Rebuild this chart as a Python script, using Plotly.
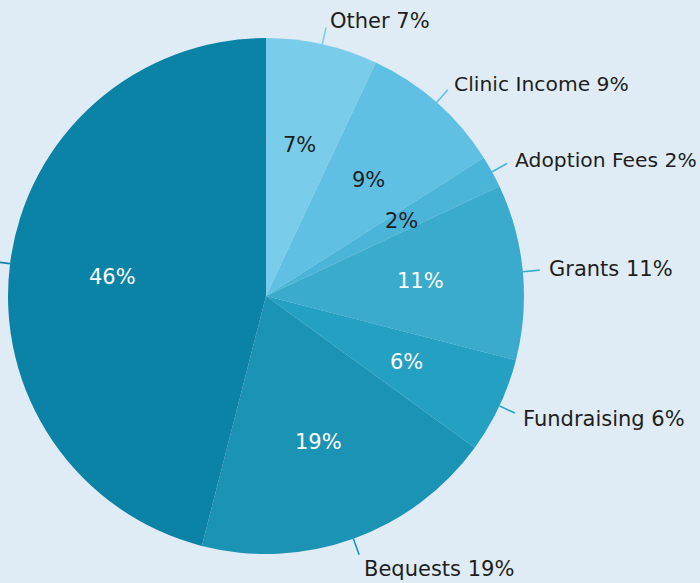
import math
import plotly.graph_objects as go

labels = ["Other", "Clinic Income", "Adoption Fees", "Grants", "Fundraising", "Bequests", "Donations"]
values = [7, 9, 2, 11, 6, 19, 46]
colors = ["#7acdea", "#5fc0e3", "#4ab5d9", "#3aaacd", "#23a0c2", "#1b93b5", "#0b83a6"]
inner_text_colors = ["#1e1e1e", "#1e1e1e", "#1e1e1e", "#ffffff", "#ffffff", "#ffffff", "#ffffff"]
# the outer label of the largest slice lies beyond the left edge of the view
show_outer_label = [True, True, True, True, True, True, False]

W, H = 700, 583
ML, MR, MT, MB = 8, 176, 38, 29
R_PX = 258.0

fig = go.Figure(go.Pie(
    labels=labels, values=values, sort=False, direction="clockwise", rotation=0,
    marker=dict(colors=colors, line=dict(width=0)),
    textinfo="none", hoverinfo="label+percent", showlegend=False,
))

total = sum(values)
annotations = []
shapes = []
cum = 0.0
FONT = "DejaVu Sans, Verdana, sans-serif"
for lab, v, col, tcol, show in zip(labels, values, colors, inner_text_colors, show_outer_label):
    mid = (cum + v / 2.0) / total * 2 * math.pi
    cum += v
    s, c = math.sin(mid), math.cos(mid)
    pct = round(v / total * 100)

    def pt(frac):
        return 0.5 + 0.5 * frac * s, 0.5 + 0.5 * frac * c

    # inside percentage
    x, y = pt(0.6)
    annotations.append(dict(x=x, y=y, xref="paper", yref="paper", text=f"{pct}%",
                            showarrow=False, font=dict(family=FONT, size=21, color=tcol),
                            xanchor="center", yanchor="middle"))
    # leader line
    x0, y0 = pt(1.0)
    x1, y1 = pt(1.0 + 17 / R_PX)
    shapes.append(dict(type="line", xref="paper", yref="paper", x0=x0, y0=y0, x1=x1, y1=y1,
                       line=dict(color=col, width=1.6)))
    # outside label
    if show:
        xt, yt = pt(1.0 + 24 / R_PX)
        size = 20.3 if len(lab) > 12 else 21
        annotations.append(dict(x=xt, y=yt, xref="paper", yref="paper", text=f"{lab} {pct}%",
                                showarrow=False, font=dict(family=FONT, size=size, color="#1e1e1e"),
                                yshift=8 * min(c, 0.0),
                                xanchor="left" if s >= 0 else "right", yanchor="middle"))

fig.update_layout(
    width=W, height=H,
    margin=dict(l=ML, r=MR, t=MT, b=MB, pad=0),
    paper_bgcolor="#e0ecf5", plot_bgcolor="#e0ecf5",
    annotations=annotations, shapes=shapes,
)

fig.write_html("out.html", config={"displayModeBar": False},
               post_script="document.body.style.margin='0';document.body.style.background='#e0ecf5';")
